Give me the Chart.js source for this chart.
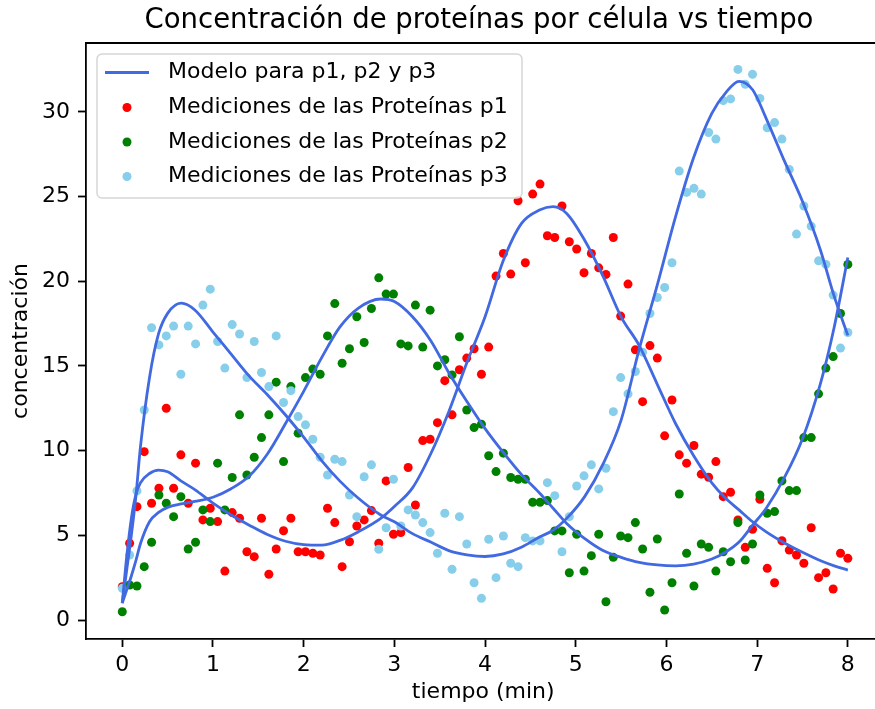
<!DOCTYPE html>
<html lang="es">
<head>
<meta charset="UTF-8">
<title>Concentración de proteínas por célula vs tiempo</title>
<script src="https://cdn.jsdelivr.net/npm/chart.js"></script>
<style>
  html, body { margin: 0; padding: 0; overflow: hidden; background: #fff; }
  canvas { display: block; }
</style>
</head>
<body>
<canvas id="grafico" width="885" height="709"></canvas>
<script>
// tiempos de medición (min)
const tiempo = [
  0.000, 0.081, 0.162, 0.242, 0.323, 0.404, 0.485, 0.566, 0.646, 0.727,
  0.808, 0.889, 0.970, 1.051, 1.131, 1.212, 1.293, 1.374, 1.455, 1.535,
  1.616, 1.697, 1.778, 1.859, 1.939, 2.020, 2.101, 2.182, 2.263, 2.343,
  2.424, 2.505, 2.586, 2.667, 2.747, 2.828, 2.909, 2.990, 3.071, 3.152,
  3.232, 3.313, 3.394, 3.475, 3.556, 3.636, 3.717, 3.798, 3.879, 3.960,
  4.040, 4.121, 4.202, 4.283, 4.364, 4.444, 4.525, 4.606, 4.687, 4.768,
  4.848, 4.929, 5.010, 5.091, 5.172, 5.253, 5.333, 5.414, 5.495, 5.576,
  5.657, 5.737, 5.818, 5.899, 5.980, 6.061, 6.141, 6.222, 6.303, 6.384,
  6.465, 6.545, 6.626, 6.707, 6.788, 6.869, 6.949, 7.030, 7.111, 7.192,
  7.273, 7.354, 7.434, 7.515, 7.596, 7.677, 7.758, 7.838, 7.919, 8.000
];

const medP1 = [
  1.97, 4.53, 6.69, 9.94, 6.89, 7.78, 12.50, 7.78, 9.75, 6.89,
  9.26, 5.91, 6.60, 5.81, 2.89, 6.34, 6.01, 4.03, 3.74, 6.01,
  2.70, 4.19, 5.27, 6.01, 4.03, 4.03, 3.94, 3.84, 6.60, 5.75,
  3.15, 4.62, 5.55, 5.91, 6.46, 4.53, 8.21, 5.06, 5.16, 9.00,
  6.79, 10.59, 10.67, 11.65, 14.13, 12.11, 14.77, 15.46, 16.01, 14.51,
  16.11, 20.30, 21.64, 20.42, 24.75, 21.09, 25.14, 25.73, 22.68, 22.58,
  24.44, 22.33, 21.90, 20.50, 21.64, 20.79, 20.40, 22.58, 17.94, 19.83,
  15.95, 12.89, 16.20, 15.46, 10.87, 12.99, 9.75, 9.26, 10.30, 8.61,
  8.43, 9.35, 7.28, 7.54, 5.91, 4.29, 5.36, 7.13, 3.05, 2.20,
  4.68, 4.13, 3.84, 3.35, 5.45, 2.50, 2.79, 1.83, 3.94, 3.64
];

const medP2 = [
  0.49, 2.07, 2.01, 3.15, 4.59, 7.38, 6.89, 6.10, 7.28, 4.19,
  4.59, 6.50, 5.81, 9.26, 6.50, 8.41, 12.11, 8.56, 9.61, 10.77,
  12.11, 14.04, 9.35, 13.78, 11.03, 14.31, 14.81, 14.51, 16.77, 18.68,
  15.16, 16.01, 17.90, 16.38, 18.39, 20.20, 19.24, 19.24, 16.30, 16.18,
  18.59, 16.11, 18.29, 15.00, 15.36, 14.47, 16.72, 12.40, 11.36, 11.56,
  9.70, 8.76, 9.85, 8.41, 8.31, 8.31, 6.95, 6.95, 7.05, 5.26,
  5.26, 2.79, 5.06, 2.89, 3.80, 5.06, 1.08, 3.70, 4.96, 4.86,
  5.75, 4.19, 1.64, 4.78, 0.59, 2.20, 7.44, 3.94, 2.01, 4.49,
  4.29, 2.89, 4.03, 3.44, 5.75, 3.54, 4.49, 7.38, 6.30, 6.40,
  8.21, 7.64, 7.64, 10.77, 10.77, 13.35, 14.87, 15.55, 18.09, 20.99
];

const medP3 = [
  1.87, 3.84, 7.62, 12.40, 17.25, 16.24, 16.77, 17.35, 14.51, 17.35,
  16.30, 18.59, 19.53, 16.44, 14.87, 17.44, 16.88, 14.31, 16.44, 14.61,
  13.78, 16.77, 12.84, 13.54, 12.01, 11.52, 10.67, 9.61, 8.56, 9.49,
  9.35, 7.38, 6.10, 8.46, 9.16, 4.18, 5.45, 8.31, 5.55, 6.50,
  6.20, 5.75, 5.16, 3.94, 6.30, 2.99, 6.10, 4.49, 2.20, 1.28,
  4.77, 2.50, 4.96, 3.35, 3.15, 4.86, 4.67, 4.67, 8.11, 7.34,
  4.03, 6.10, 7.91, 8.51, 9.16, 7.74, 8.96, 12.30, 14.31, 13.35,
  14.67, 15.81, 18.09, 19.04, 19.63, 21.09, 26.50, 25.24, 25.48, 25.14,
  28.78, 28.39, 30.66, 30.76, 32.50, 31.62, 32.21, 30.79, 29.06, 29.36,
  28.39, 26.60, 22.78, 24.44, 23.25, 21.20, 20.99, 19.18, 16.05, 16.97
];

// curvas del modelo
const tModelo = [
  0, 0.05, 0.1, 0.15, 0.2, 0.3, 0.4, 0.5, 0.65, 0.8, 1.0, 1.2, 1.4, 1.6, 1.8, 2.0,
  2.2, 2.4, 2.6, 2.85, 3.0, 3.2, 3.4, 3.6, 3.8, 4.0, 4.2, 4.4, 4.6, 4.75, 4.9, 5.1,
  5.3, 5.5, 5.7, 5.9, 6.1, 6.3, 6.5, 6.65, 6.8, 6.95, 7.1, 7.3, 7.5, 7.7, 7.85, 8.0
];
const modeloP1 = [
  1.0, 3.8, 6.0, 7.4, 8.1, 8.65, 8.85, 8.75, 8.2, 7.7, 6.9, 6.2, 5.6, 5.05, 4.65, 4.45,
  4.42, 4.7, 5.2, 6.0, 6.7, 7.8, 9.8, 12.3, 15.2, 17.9, 21.2, 23.4, 24.2, 24.4, 24.0, 22.4,
  20.3, 17.9, 16.2, 13.9, 11.6, 9.7, 8.1, 7.2, 6.5, 5.8, 5.2, 4.55, 4.0, 3.5, 3.2, 2.95
];
const modeloP2 = [
  1.0, 1.8, 2.6, 3.5, 4.5, 5.8, 6.35, 6.65, 6.85, 7.0, 7.25, 7.75, 8.5, 9.8, 11.6, 13.5,
  15.5, 17.3, 18.4, 18.95, 18.8, 17.9, 16.5, 14.6, 12.9, 11.3, 9.9, 8.6, 7.5, 6.6, 5.7, 4.8,
  4.1, 3.7, 3.4, 3.25, 3.2, 3.3, 3.6, 4.0, 4.6, 5.6, 6.6, 8.4, 10.7, 14.0, 17.3, 21.4
];
const modeloP3 = [
  1.0, 3.0, 5.0, 7.3, 10.2, 14.3, 16.9, 18.1, 18.7, 18.3, 17.0, 15.7, 14.4, 13.3, 12.1, 10.8,
  9.4, 8.2, 7.2, 6.2, 5.8, 5.1, 4.6, 4.1, 3.85, 3.75, 3.9, 4.3, 4.9, 5.3, 6.0, 7.3,
  9.2, 11.8, 16.0, 19.8, 23.8, 27.3, 29.9, 31.1, 31.8, 31.3, 29.6, 27.1, 24.7, 21.8, 19.1, 16.8
];

const xTicks = [0, 1, 2, 3, 4, 5, 6, 7, 8];
const yTicks = [0, 5, 10, 15, 20, 25, 30];

const titulo = 'Concentración de proteínas por célula vs tiempo';
const etiquetaModelo = 'Modelo para p1, p2 y p3';
const etiquetas = ['Mediciones de las Proteínas p1', 'Mediciones de las Proteínas p2', 'Mediciones de las Proteínas p3'];
const colores = ['#ff0000', '#008000', '#87ceeb'];
const AZUL = '#4169e1';
const FUENTE = 'DejaVu Sans';

const pares = (xs, ys) => ys.map((y, i) => ({ x: xs[i], y }));

const medicion = (i, datos) => ({
  type: 'scatter',
  label: etiquetas[i],
  data: pares(tiempo, datos),
  backgroundColor: colores[i],
  pointRadius: 4.5,
  pointBorderWidth: 0,
  order: 3 - i
});

const modelo = (datos) => ({
  type: 'line',
  label: etiquetaModelo,
  data: pares(tModelo, datos),
  borderColor: AZUL,
  borderWidth: 2.8,
  pointRadius: 0,
  fill: false,
  cubicInterpolationMode: 'monotone',
  order: 0
});

// título, marco superior/derecho y leyenda al estilo matplotlib
const decorado = {
  id: 'decorado',
  afterDraw(chart) {
    const { ctx, chartArea: a } = chart;
    ctx.save();
    ctx.strokeStyle = '#000';
    ctx.lineWidth = 1.8;
    ctx.beginPath();
    ctx.moveTo(a.left, a.top);
    ctx.lineTo(a.right, a.top);
    ctx.lineTo(a.right, a.bottom);
    ctx.stroke();

    ctx.fillStyle = '#000';
    ctx.font = '27.5px "' + FUENTE + '"';
    ctx.textAlign = 'center';
    ctx.textBaseline = 'middle';
    ctx.fillText(titulo, 479, 21);

    // caja de la leyenda
    const bx = 97, by = 54, bw = 425, bh = 144;
    ctx.beginPath();
    ctx.roundRect(bx, by, bw, bh, 5);
    ctx.fillStyle = 'rgba(255,255,255,0.8)';
    ctx.fill();
    ctx.strokeStyle = '#d6d6d6';
    ctx.lineWidth = 1.5;
    ctx.stroke();

    const filas = [72.5, 107.5, 142, 176.5];
    const xTexto = 168;
    ctx.font = '22px "' + FUENTE + '"';
    ctx.textAlign = 'left';

    ctx.strokeStyle = AZUL;
    ctx.lineWidth = 2.8;
    ctx.beginPath();
    ctx.moveTo(105, filas[0]);
    ctx.lineTo(149, filas[0]);
    ctx.stroke();
    ctx.fillStyle = '#000';
    ctx.fillText(etiquetaModelo, xTexto, filas[0]);

    etiquetas.forEach((txt, i) => {
      const y = filas[i + 1];
      ctx.fillStyle = colores[i];
      ctx.beginPath();
      ctx.arc(127, y, 4.5, 0, Math.PI * 2);
      ctx.fill();
      ctx.fillStyle = '#000';
      ctx.fillText(txt, xTexto, y);
    });
    ctx.restore();
  }
};

const ejeComun = {
  border: { display: true, color: '#000', width: 1.8 },
  grid: { drawOnChartArea: false, drawTicks: true, tickLength: 8, tickWidth: 1.8, tickColor: '#000' }
};

new Chart(document.getElementById('grafico'), {
  type: 'scatter',
  data: {
    datasets: [
      modelo(modeloP1),
      modelo(modeloP2),
      modelo(modeloP3),
      medicion(0, medP1),
      medicion(1, medP2),
      medicion(2, medP3)
    ]
  },
  options: {
    responsive: false,
    animation: false,
    devicePixelRatio: 1,
    layout: { padding: { top: 43, right: 0, bottom: 0, left: 0 } },
    plugins: { legend: { display: false }, tooltip: { enabled: false } },
    scales: {
      x: {
        type: 'linear',
        min: -0.4,
        max: 8.36,
        ...ejeComun,
        afterBuildTicks: (s) => { s.ticks = xTicks.map(v => ({ value: v })); },
        afterFit: (s) => { s.height = 70; },
        ticks: { color: '#000', font: { family: FUENTE, size: 22 }, padding: 5, maxRotation: 0, callback: v => String(v) },
        title: { display: true, text: 'tiempo (min)', color: '#000', font: { family: FUENTE, size: 22 }, padding: { top: 0, bottom: 4 } }
      },
      y: {
        type: 'linear',
        min: -1.12,
        max: 34.06,
        ...ejeComun,
        afterBuildTicks: (s) => { s.ticks = yTicks.map(v => ({ value: v })); },
        afterFit: (s) => { s.width = 86; },
        ticks: { color: '#000', font: { family: FUENTE, size: 22 }, padding: 8, callback: v => String(v) },
        title: { display: true, text: 'concentración', color: '#000', font: { family: FUENTE, size: 22 }, padding: { top: 8, bottom: 0 } }
      }
    }
  },
  plugins: [decorado]
});
</script>
</body>
</html>
